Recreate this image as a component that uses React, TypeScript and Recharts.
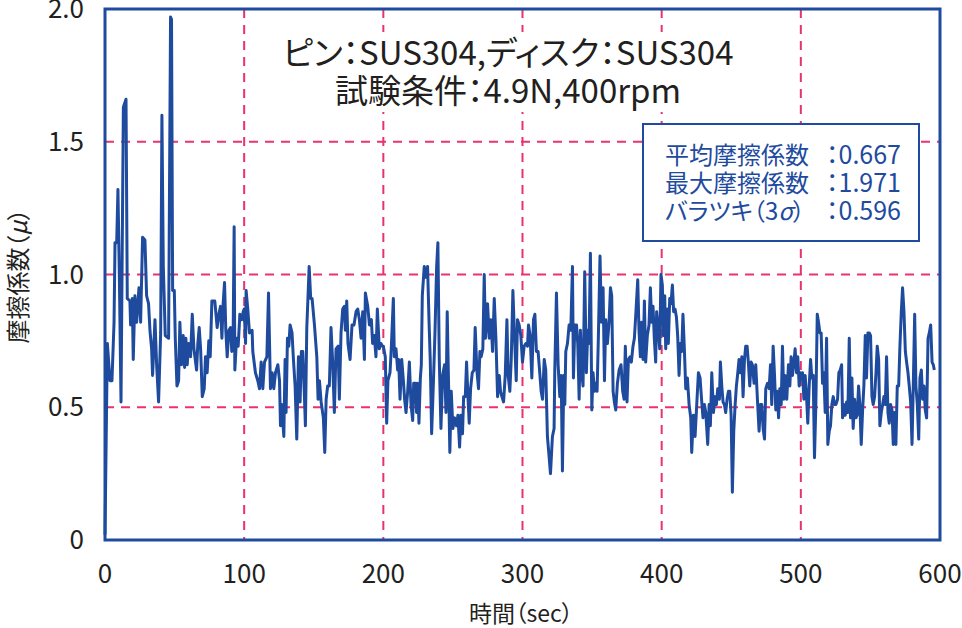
import React from 'react';
import { LineChart, Line, XAxis, YAxis, CartesianGrid } from 'recharts';

// [time (sec), friction coefficient], in 100-second segments
const seg000: [number, number][] = [
  [0, 0.02], [1.7, 0.74], [3.6, 0.6], [5.0, 0.6], [6.5, 0.82], [7.2, 1.12], [8.4, 1.12], [9.3, 1.32], [10.3, 1.0], [11.5, 0.52],
  [13.2, 1.63], [15.1, 1.66], [16.0, 0.91], [17.9, 0.9], [18.4, 0.81], [19.6, 0.91], [20.3, 0.68], [21.5, 0.92], [22.7, 0.82], [24.4, 0.95],
  [25.6, 0.82], [27.0, 1.14], [28.7, 1.13], [29.9, 0.92], [31.3, 0.89], [32.3, 0.79], [33.5, 0.72], [34.2, 0.62], [35.9, 0.83], [37.1, 0.66],
  [38.5, 0.52], [40.0, 0.78], [40.9, 1.6], [41.9, 1.03], [43.3, 0.77], [45.7, 0.76], [47.1, 1.97], [47.8, 1.96], [48.6, 0.94], [49.8, 0.94],
  [50.5, 0.76], [51.7, 0.58], [52.9, 0.6], [53.8, 0.82], [55.0, 0.66], [56.2, 0.77], [57.2, 0.65], [58.1, 0.76], [59.1, 0.66], [60.0, 0.74],
  [61.5, 0.69], [62.7, 0.85], [63.9, 0.72], [65.8, 0.64], [66.7, 0.74], [67.7, 0.8], [68.7, 0.72], [69.9, 0.54], [71.3, 0.57], [72.2, 0.69],
  [73.4, 0.63], [74.6, 0.75], [75.6, 0.69], [76.8, 0.9], [78.9, 0.9], [80.6, 0.8], [81.8, 0.85], [83.0, 0.88], [84.0, 0.76], [84.9, 0.89],
  [85.9, 0.97], [86.8, 0.79], [87.8, 0.69], [89.0, 0.79], [90.2, 0.8], [91.1, 0.71], [92.1, 0.79], [92.8, 1.18], [93.3, 0.64], [94.5, 0.76],
  [95.7, 0.73], [96.9, 0.85], [98.3, 0.83], [99.3, 0.86],
];

const seg100: [number, number][] = [
  [100.0, 0.87], [101.0, 0.74], [101.4, 0.94], [102.6, 0.87], [103.8, 0.78], [105.7, 0.79], [106.2, 0.71], [108.1, 0.63], [109.8, 0.6], [111.0, 0.57],
  [112.2, 0.67], [113.4, 0.57], [114.6, 0.67], [116.3, 0.69], [117.5, 0.93], [118.9, 0.57], [120.1, 0.63], [121.3, 0.57], [122.5, 0.63], [124.2, 0.66],
  [125.4, 0.6], [126.1, 0.43], [127.0, 0.51], [128.5, 0.39], [129.4, 0.68], [130.1, 0.48], [131.1, 0.76], [132.1, 0.73], [133.0, 0.81], [134.4, 0.78],
  [135.4, 0.68], [136.6, 0.58], [137.8, 0.38], [139.0, 0.69], [140.2, 0.52], [141.1, 0.71], [142.1, 0.71], [143.3, 0.54], [144.0, 0.43], [145.0, 0.8],
  [145.9, 0.92], [146.7, 1.03], [147.8, 0.91], [148.8, 0.91], [150.5, 0.81], [152.2, 0.69], [153.1, 0.53], [154.1, 0.6], [155.3, 0.52], [156.9, 0.46],
  [157.9, 0.33], [158.9, 0.53], [160.0, 0.58], [161.2, 0.58], [162.4, 0.8], [163.6, 0.67], [164.8, 0.48], [166.0, 0.72], [167.5, 0.73], [168.4, 0.53],
  [169.6, 0.78], [170.8, 0.87], [172.0, 0.88], [172.7, 0.79], [173.7, 0.9], [174.6, 0.74], [176.1, 0.68], [177.5, 0.81], [178.9, 0.81], [180.4, 0.86],
  [181.6, 0.87], [182.8, 0.83], [184.0, 0.76], [185.2, 0.86], [186.4, 0.68], [187.1, 0.93], [188.8, 0.88], [190.0, 0.81], [191.4, 0.83], [192.3, 0.74],
  [193.5, 0.77], [194.7, 0.69], [195.7, 0.87], [197.1, 0.72], [198.3, 0.74], [199.5, 0.73],
];

const seg200: [number, number][] = [
  [200.0, 0.73], [201.4, 0.69], [202.4, 0.44], [203.3, 0.6], [204.8, 0.63], [205.7, 0.72], [207.2, 0.91], [207.9, 0.69], [209.1, 0.72], [210.3, 0.64],
  [211.0, 0.68], [212.0, 0.53], [213.2, 0.68], [214.4, 0.6], [215.3, 0.53], [216.3, 0.48], [217.5, 0.56], [218.7, 0.67], [219.9, 0.51], [221.1, 0.45],
  [221.8, 0.59], [223.0, 0.59], [223.9, 0.48], [224.6, 0.59], [225.6, 0.44], [226.6, 0.61], [227.3, 0.66], [228.0, 0.92], [229.4, 1.03], [230.6, 0.99],
  [231.8, 1.03], [232.8, 0.83], [233.7, 0.68], [234.7, 0.4], [235.9, 0.58], [237.1, 0.78], [238.3, 1.03], [239.2, 1.12], [240.2, 0.68], [241.4, 0.42],
  [242.6, 0.62], [244.0, 0.66], [245.0, 0.48], [245.9, 0.86], [246.9, 0.58], [247.8, 0.33], [248.8, 0.56], [250.0, 0.42], [251.2, 0.46], [252.6, 0.43],
  [253.6, 0.47], [254.8, 0.35], [255.7, 0.47], [256.9, 0.4], [257.7, 0.54], [258.9, 0.54], [259.8, 0.67], [260.8, 0.54], [261.7, 0.44], [262.7, 0.57],
  [263.9, 0.63], [265.1, 0.64], [266.0, 0.8], [267.2, 0.64], [268.4, 0.57], [269.4, 0.71], [270.3, 0.69], [271.5, 0.72], [272.5, 1.0], [273.4, 0.76],
  [274.9, 0.89], [276.1, 0.76], [277.3, 0.83], [278.5, 0.71], [279.7, 0.91], [280.9, 0.76], [282.1, 0.54], [283.3, 0.62], [284.2, 0.56], [285.2, 0.54],
  [286.4, 0.52], [287.6, 0.62], [288.8, 0.83], [289.7, 0.62], [290.9, 0.56], [291.9, 0.68], [293.1, 0.94], [294.3, 0.76], [295.5, 0.6], [296.4, 0.83],
  [297.6, 0.81], [298.8, 0.77],
];

const seg300: [number, number][] = [
  [300.0, 0.67], [301.2, 0.73], [302.4, 0.74], [303.6, 0.73], [304.3, 0.81], [305.5, 0.77], [306.7, 0.61], [307.9, 0.83], [308.9, 0.85], [310.0, 0.71],
  [311.2, 0.71], [312.4, 0.63], [313.4, 0.56], [314.4, 0.53], [315.6, 0.68], [316.7, 0.64], [317.9, 0.39], [318.7, 0.34], [320.1, 0.25], [321.5, 0.39],
  [322.7, 0.42], [323.2, 0.64], [324.4, 0.93], [325.6, 0.66], [326.8, 0.54], [327.8, 0.62], [328.7, 0.26], [329.7, 0.62], [330.4, 0.51], [331.1, 0.71],
  [332.3, 0.74], [333.5, 0.81], [334.7, 0.79], [335.9, 1.03], [336.6, 0.61], [337.6, 0.81], [338.8, 0.81], [339.7, 0.74], [340.7, 0.53], [341.6, 0.79],
  [342.6, 0.63], [343.5, 0.58], [344.7, 1.01], [345.9, 0.63], [346.9, 0.79], [347.8, 0.74], [348.8, 1.08], [349.8, 0.49], [350.7, 0.63], [351.7, 0.56],
  [352.6, 0.59], [353.6, 0.56], [354.5, 0.76], [355.7, 1.07], [356.7, 0.82], [357.9, 0.95], [358.9, 0.6], [359.8, 0.83], [361.0, 0.74], [362.2, 0.82],
  [363.2, 0.95], [364.1, 0.92], [365.1, 0.56], [366.0, 0.52], [367.0, 0.49], [368.2, 0.59], [369.4, 0.64], [370.8, 0.66], [372.0, 0.56], [373.0, 0.53],
  [373.9, 0.73], [375.1, 0.52], [376.1, 0.68], [377.3, 0.69], [378.2, 0.67], [379.4, 0.73], [380.4, 0.76], [381.3, 0.84], [382.8, 0.98], [383.7, 0.79],
  [384.7, 0.69], [385.6, 0.82], [386.6, 0.68], [387.6, 0.9], [388.5, 0.67], [389.7, 0.77], [390.9, 0.81], [391.9, 0.95], [392.8, 0.82], [393.8, 0.88],
  [394.7, 0.76], [395.7, 0.67], [396.4, 0.86], [397.6, 0.79], [398.6, 0.72], [399.5, 1.0],
];

const seg400: [number, number][] = [
  [400.5, 0.96], [401.2, 0.77], [402.2, 0.92], [402.9, 0.72], [404.1, 0.87], [404.8, 0.74], [405.8, 0.91], [406.7, 0.89], [407.7, 0.96], [408.6, 0.86],
  [409.6, 0.87], [410.6, 0.84], [411.5, 0.77], [412.5, 0.62], [413.4, 0.74], [414.4, 0.71], [415.3, 0.85], [416.3, 0.72], [417.3, 0.57], [418.5, 0.61],
  [419.7, 0.51], [420.9, 0.46], [421.6, 0.33], [422.8, 0.47], [424.0, 0.39], [425.2, 0.51], [426.4, 0.63], [427.6, 0.61], [428.8, 0.52], [429.7, 0.46],
  [430.7, 0.51], [431.7, 0.48], [433.1, 0.36], [434.1, 0.51], [435.0, 0.43], [436.0, 0.63], [437.2, 0.48], [438.4, 0.54], [439.3, 0.51], [440.3, 0.57],
  [441.5, 0.53], [442.2, 0.67], [443.2, 0.58], [444.1, 0.52], [445.1, 0.51], [446.0, 0.48], [447.0, 0.53], [448.0, 0.56], [448.9, 0.56], [449.9, 0.47],
  [450.8, 0.18], [451.8, 0.41], [452.8, 0.51], [453.7, 0.58], [454.7, 0.63], [455.6, 0.68], [456.6, 0.63], [457.6, 0.69], [458.5, 0.54], [459.5, 0.68],
  [460.4, 0.73], [461.4, 0.73], [462.4, 0.66], [463.3, 0.58], [464.3, 0.67], [465.2, 0.66], [466.4, 0.59], [467.6, 0.66], [468.8, 0.53], [470.0, 0.41],
  [471.0, 0.51], [471.9, 0.51], [472.9, 0.42], [473.9, 0.38], [474.8, 0.57], [476.0, 0.59], [477.2, 0.57], [478.2, 0.66], [479.1, 0.51], [480.1, 0.73],
  [481.1, 0.62], [482.0, 0.49], [483.0, 0.56], [484.0, 0.46], [484.9, 0.57], [485.9, 0.51], [486.8, 0.73], [487.8, 0.53], [488.7, 0.62], [489.9, 0.53],
  [491.1, 0.66], [492.1, 0.58], [493.0, 0.69], [494.0, 0.62], [495.0, 0.67], [495.9, 0.72], [496.9, 0.63], [497.8, 0.69], [498.8, 0.58], [499.8, 0.63],
];

const seg500: [number, number][] = [
  [500.0, 0.61], [501.2, 0.63], [502.2, 0.53], [503.1, 0.62], [504.1, 0.54], [505.0, 0.44], [506.0, 0.58], [507.0, 0.68], [507.9, 0.61], [508.9, 0.62],
  [509.8, 0.31], [510.8, 0.51], [511.8, 0.85], [512.7, 0.82], [513.7, 0.78], [514.6, 0.78], [515.6, 0.59], [516.5, 0.63], [517.5, 0.48], [518.5, 0.76],
  [519.4, 0.36], [520.4, 0.41], [521.3, 0.43], [522.3, 0.51], [523.3, 0.54], [524.2, 0.51], [525.2, 0.51], [526.4, 0.53], [527.3, 0.63], [528.3, 0.64],
  [529.3, 0.66], [530.0, 0.46], [530.9, 0.51], [531.9, 0.47], [532.9, 0.52], [533.8, 0.48], [534.8, 0.76], [535.7, 0.46], [536.7, 0.61], [537.6, 0.42],
  [538.6, 0.53], [539.6, 0.46], [540.5, 0.47], [541.5, 0.58], [542.4, 0.51], [543.4, 0.36], [544.4, 0.49], [545.3, 0.58], [546.3, 0.77], [547.2, 0.61],
  [548.2, 0.78], [549.2, 0.78], [550.1, 0.77], [551.1, 0.54], [552.0, 0.51], [553.0, 0.54], [554.0, 0.63], [554.9, 0.73], [555.9, 0.68], [556.8, 0.43],
  [557.8, 0.48], [558.8, 0.51], [559.7, 0.54], [560.7, 0.51], [561.6, 0.69], [562.6, 0.48], [563.5, 0.44], [564.5, 0.51], [565.5, 0.49], [566.4, 0.36],
  [567.4, 0.48], [568.3, 0.36], [569.3, 0.58], [570.3, 0.58], [571.2, 0.73], [572.2, 0.86], [573.1, 0.95], [574.1, 0.86], [575.1, 0.71], [576.0, 0.67],
  [577.0, 0.63], [577.9, 0.58], [578.9, 0.52], [579.9, 0.36], [580.8, 0.58], [581.8, 0.85], [582.7, 0.58], [583.7, 0.51], [584.7, 0.38], [585.6, 0.61],
  [586.6, 0.64], [587.5, 0.53], [588.5, 0.58], [589.4, 0.49], [590.4, 0.46], [591.4, 0.76], [592.3, 0.78], [593.3, 0.81], [594.3, 0.67], [595.2, 0.66],
  [595.9, 0.64],
];

const xTicks = [0, 100, 200, 300, 400, 500, 600];
const yTicks = [0, 0.5, 1.0, 1.5, 2.0];
const yTickLabels = ['0', '0.5', '1.0', '1.5', '2.0'];

const titleLines = ['ピン：SUS304,ディスク：SUS304', '試験条件：4.9N,400rpm'];
const statLabels = ['平均摩擦係数', '最大摩擦係数', 'バラツキ（3σ）'];
const statValues = ['：0.667', '：1.971', '：0.596'];
const xAxisTitle = '時間（sec）';
const yAxisTitle = '摩擦係数（μ）';

const data = [...seg000, ...seg100, ...seg200, ...seg300, ...seg400, ...seg500].map(([t, v]) => ({ t, v }));

const BLUE = '#1e4b9e';
const PINK = '#e8336e';
const INK = '#231f20';
const FONT = "'Noto Sans CJK JP', 'Noto Sans', sans-serif";
const PALT: React.CSSProperties = { fontFeatureSettings: '"palt"' };

// Greek letters (σ, μ) are set in italics, as in the reference
function withItalicGreek(s: string) {
  return s.split(/([σμ])/).map((part, i) =>
    /[σμ]/.test(part) ? (
      <tspan key={i} fontStyle="italic">
        {part}
      </tspan>
    ) : (
      <tspan key={i}>{part}</tspan>
    ),
  );
}

export default function App() {
  return (
    <div style={{ position: 'absolute', left: 0, top: 0, width: 962, height: 628, background: '#fff', fontFamily: FONT }}>
      <LineChart width={962} height={628} data={data} margin={{ top: 9, right: 22, left: 0, bottom: 0 }}>
        <CartesianGrid stroke={PINK} strokeWidth={2} strokeDasharray="9 7" horizontalValues={yTicks} verticalValues={xTicks} />
        <XAxis
          dataKey="t"
          type="number"
          domain={[0, 600]}
          ticks={xTicks}
          height={88}
          axisLine={false}
          tickLine={false}
          tickSize={0}
          tickMargin={25}
          tick={{ fontSize: 26, fill: INK, fontFamily: FONT }}
          interval={0}
        />
        <YAxis
          type="number"
          domain={[0, 2]}
          ticks={yTicks}
          width={105}
          axisLine={false}
          tickLine={false}
          tickSize={0}
          tickMargin={21}
          tick={{ fontSize: 26, fill: INK, fontFamily: FONT }}
          tickFormatter={(v: number) => yTickLabels[yTicks.indexOf(v)] ?? String(v)}
          interval={0}
        />
        <Line
          dataKey="v"
          type="linear"
          stroke={BLUE}
          strokeWidth={3}
          dot={false}
          activeDot={false}
          isAnimationActive={false}
          strokeLinejoin="round"
        />
      </LineChart>
      <svg width={962} height={628} style={{ position: 'absolute', left: 0, top: 0, pointerEvents: 'none' }}>
        <rect x={105} y={9} width={835} height={531} fill="none" stroke={BLUE} strokeWidth={3} />
        <rect x={283} y={32} width={452} height={80} fill="#fff" />
        {titleLines.map((s, i) => (
          <text key={s} x={508} y={65 + i * 38} textAnchor="middle" fontSize={33} fill={INK} fontFamily={FONT} style={PALT}>
            {s}
          </text>
        ))}
        <rect x={643} y={124} width={276} height={117} fill="#fff" stroke={BLUE} strokeWidth={2} />
        {statLabels.map((s, i) => (
          <text key={s} x={665} y={164 + i * 28} fontSize={24} fill={BLUE} fontFamily={FONT} style={PALT}>
            {withItalicGreek(s)}
          </text>
        ))}
        {statValues.map((s, i) => (
          <text key={s + i} x={826} y={164 + i * 28} fontSize={25} fill={BLUE} fontFamily={FONT} style={PALT}>
            {s}
          </text>
        ))}
        <text x={521} y={622} textAnchor="middle" fontSize={23} fill={INK} fontFamily={FONT} style={PALT}>
          {xAxisTitle}
        </text>
        <text
          x={16}
          y={276}
          transform="rotate(-90 16 276)"
          textAnchor="middle"
          dominantBaseline="central"
          fontSize={24}
          fill={INK}
          fontFamily={FONT}
          style={PALT}
        >
          {withItalicGreek(yAxisTitle)}
        </text>
      </svg>
    </div>
  );
}
